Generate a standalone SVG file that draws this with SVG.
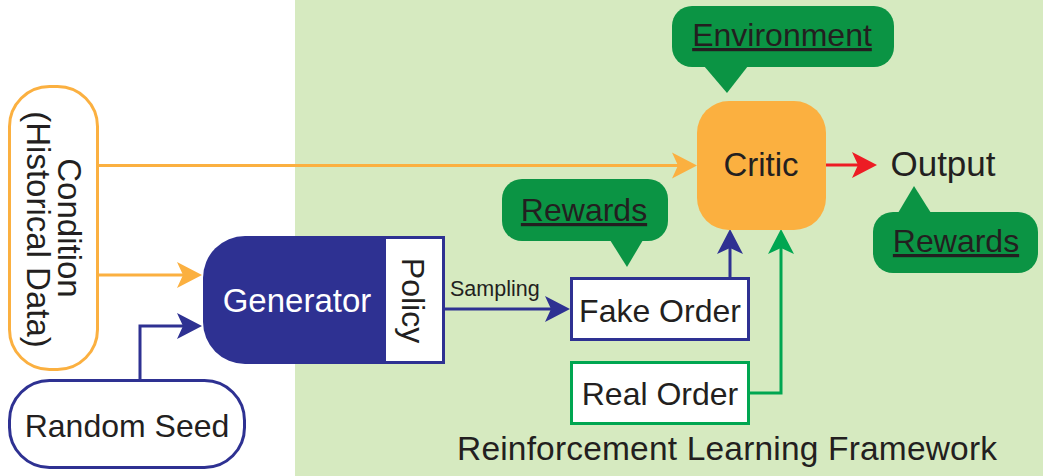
<svg xmlns="http://www.w3.org/2000/svg" width="1043" height="476" viewBox="0 0 1043 476">
<style>
text{font-family:"Liberation Sans",Arial,sans-serif;fill:#231f20;}
.t32{font-size:32px;}
.t33{font-size:33px;}
.w{fill:#ffffff;}
.u{text-decoration:underline;}
.ln{fill:none;stroke-width:3;}
.or{stroke:#fbb040;}
.bl{stroke:#2e3192;}
.gr{stroke:#00a651;}
.rd{stroke:#ed1c24;}
.call{fill:#0b9444;}
</style>
<defs>
<marker id="aOr" markerUnits="userSpaceOnUse" markerWidth="25" markerHeight="26" refX="6" refY="13" orient="auto" overflow="visible"><path d="M0,0 L25,13 L0,26 L6,13 Z" fill="#fbb040"/></marker>
<marker id="aBl" markerUnits="userSpaceOnUse" markerWidth="25" markerHeight="26" refX="6" refY="13" orient="auto" overflow="visible"><path d="M0,0 L25,13 L0,26 L6,13 Z" fill="#2e3192"/></marker>
<marker id="aGr" markerUnits="userSpaceOnUse" markerWidth="25" markerHeight="26" refX="6" refY="13" orient="auto" overflow="visible"><path d="M0,0 L25,13 L0,26 L6,13 Z" fill="#00a651"/></marker>
<marker id="aRd" markerUnits="userSpaceOnUse" markerWidth="25" markerHeight="26" refX="6" refY="13" orient="auto" overflow="visible"><path d="M0,0 L25,13 L0,26 L6,13 Z" fill="#ed1c24"/></marker>
</defs>
<rect x="0" y="0" width="1043" height="476" fill="#ffffff"/>
<g id="framework">
<rect x="295" y="0" width="748" height="476" fill="#d6eac0"/>
<text x="457" y="460" style="font-size:33.5px" textLength="540" lengthAdjust="spacing">Reinforcement Learning Framework</text>
</g>
<g id="connectors">
<path class="ln or" d="M98,165.5 H678" marker-end="url(#aOr)"/>
<path class="ln or" d="M98,275 H183" marker-end="url(#aOr)"/>
<path class="ln bl" d="M140,380 V326 H183" marker-end="url(#aBl)"/>
<path class="ln bl" d="M445,309 H551" marker-end="url(#aBl)"/>
<path class="ln bl" d="M730,278 V248" marker-end="url(#aBl)"/>
<path class="ln gr" d="M749,393 H781 V248" marker-end="url(#aGr)"/>
<path class="ln rd" d="M826,165 H858" marker-end="url(#aRd)"/>
<text x="450" y="296" style="font-size:21.5px">Sampling</text>
</g>
<g id="condition">
<rect x="9.5" y="86.5" width="88" height="283" rx="40" fill="#ffffff" stroke="#fbb040" stroke-width="3"/>
<text class="t33" transform="translate(58,228) rotate(90)" text-anchor="middle">Condition</text>
<text class="t33" transform="translate(27,229.5) rotate(90)" text-anchor="middle">(Historical Data)</text>
</g>
<g id="random-seed">
<rect x="9.5" y="380.5" width="235" height="87" rx="40" fill="#ffffff" stroke="#2e3192" stroke-width="3"/>
<text class="t32" x="127" y="437" text-anchor="middle">Random Seed</text>
</g>
<g id="generator">
<path d="M445,236 H245 A42,42 0 0 0 203,278 V322 A42,42 0 0 0 245,364 H445 Z" fill="#2e3192"/>
<text class="t33 w" x="297" y="312" text-anchor="middle">Generator</text>
</g>
<g id="policy">
<rect x="384.5" y="237.5" width="59" height="125" fill="#ffffff" stroke="#2e3192" stroke-width="3"/>
<text class="t32" transform="translate(402,300.5) rotate(90)" text-anchor="middle">Policy</text>
</g>
<g id="fake-order">
<rect x="571.5" y="278.5" width="177" height="61" fill="#ffffff" stroke="#2e3192" stroke-width="3"/>
<text class="t32" x="660" y="322" text-anchor="middle">Fake Order</text>
</g>
<g id="real-order">
<rect x="571.5" y="362.5" width="177" height="61" fill="#ffffff" stroke="#00a651" stroke-width="3"/>
<text class="t32" x="660" y="405" text-anchor="middle">Real Order</text>
</g>
<g id="critic">
<rect x="697" y="101" width="129" height="129" rx="32" fill="#fbb040"/>
<text class="t33" x="761" y="176" text-anchor="middle">Critic</text>
</g>
<g id="output">
<text x="943" y="176" text-anchor="middle" style="font-size:35px">Output</text>
</g>
<g id="environment-callout">
<rect class="call" x="672" y="6" width="222" height="61" rx="20"/>
<polygon class="call" points="704,66 748,66 727,93"/>
<text class="t32 u" x="782" y="46" text-anchor="middle">Environment</text>
</g>
<g id="rewards-callout-1">
<rect class="call" x="502" y="179" width="166" height="62" rx="20"/>
<polygon class="call" points="610,240 643,240 627,267"/>
<text class="t32 u" x="584" y="221" text-anchor="middle">Rewards</text>
</g>
<g id="rewards-callout-2">
<rect class="call" x="873" y="212" width="165" height="61" rx="20"/>
<polygon class="call" points="898,213 931,213 914,186"/>
<text class="t32 u" x="956" y="252" text-anchor="middle">Rewards</text>
</g>
</svg>
